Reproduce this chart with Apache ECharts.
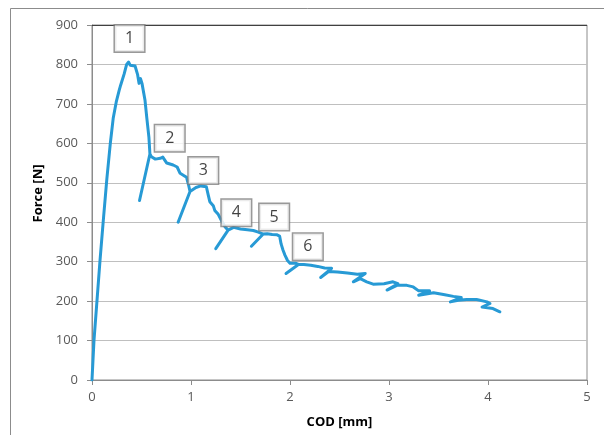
<!DOCTYPE html>
<html>
<head>
<meta charset="utf-8">
<script src="https://cdn.jsdelivr.net/npm/echarts@6/dist/echarts.min.js"></script>
<style>
html,body{margin:0;padding:0;background:#fff;}
#chart{width:604px;height:435px;}
</style>
</head>
<body>
<div id="chart"></div>
<script>
// COD [mm] values of the force-COD curve (unload/reload branches included)
const codValues = [
  0, 0.01, 0.02, 0.05, 0.08, 0.114, 0.15, 0.185, 0.215, 0.245, 0.275, 0.29, 0.31, 0.325, 0.35, 0.37, 0.385, 0.40, 0.435, 0.46, 0.475, 0.49, 0.505, 0.535, 0.553, 0.575, 0.585,
  0.48, 0.585, 0.60, 0.64, 0.69, 0.715, 0.755, 0.82, 0.86, 0.89, 0.93, 0.955, 0.975, 0.99,
  0.87, 0.99, 1.05, 1.10, 1.155, 1.175, 1.19, 1.225, 1.24, 1.275, 1.31, 1.345, 1.375,
  1.25, 1.375, 1.43, 1.50, 1.57, 1.63, 1.68, 1.73,
  1.61, 1.73, 1.77, 1.82, 1.87, 1.895, 1.91, 1.93, 1.95, 1.975, 2.0, 2.06, 2.085,
  1.96, 2.085, 2.14, 2.21, 2.28, 2.35, 2.42,
  2.31, 2.39, 2.48, 2.58, 2.68, 2.76,
  2.64, 2.71, 2.775, 2.84, 2.95, 3.04, 3.09,
  2.98, 3.08, 3.18, 3.245, 3.30, 3.41,
  3.30, 3.45, 3.55, 3.65, 3.73,
  3.62, 3.70, 3.785, 3.885, 3.99, 4.02,
  3.94, 4.05, 4.12
];
// Force [N] values matching codValues
const forceValues = [
  0, 50, 100, 200, 300, 404, 510, 600, 665, 705, 735, 748, 752, 776, 800, 806, 798, 802, 796, 775, 752, 764, 752, 710, 666, 615, 573,
  455, 573, 566, 560, 562, 565, 550, 545, 540, 524, 518, 514, 495, 478,
  400, 478, 488, 492, 490, 468, 452, 442, 430, 420, 403, 388, 380,
  333, 380, 387, 383, 381, 379, 375, 370,
  339, 370, 371, 369, 368, 365, 345, 329, 316, 303, 296, 296, 293,
  270, 293, 293, 291, 288, 284, 283,
  260, 275, 274, 271, 268, 270,
  249, 257, 249, 243, 244, 249, 244,
  228, 240, 240, 236, 226, 226,
  215, 221, 217, 212, 209,
  198, 202, 204, 204, 198, 194,
  185, 181, 173
];
// Numbered stage annotations
const noteLabels = ['1', '2', '3', '4', '5', '6'];
const noteCod = [0.379, 0.785, 1.124, 1.458, 1.84, 2.18];
const noteForce = [866, 613, 531, 424, 413, 338];
// Axis ticks
const xTicks = [0, 1, 2, 3, 4, 5];
const yTicks = [0, 100, 200, 300, 400, 500, 600, 700, 800, 900];

const curve = codValues.map((x, i) => [x, forceValues[i]]);
const notes = noteLabels.map((t, i) => ({ value: [noteCod[i], noteForce[i]], name: t }));

const chart = echarts.init(document.getElementById('chart'), null, { renderer: 'canvas' });
const fontFam = '"Open Sans", "Liberation Sans", sans-serif';
chart.setOption({
  animation: false,
  backgroundColor: '#ffffff',
  graphic: [{
    type: 'rect',
    shape: { x: 10.5, y: 8.5, width: 620, height: 450 },
    style: { fill: 'none', stroke: '#8c8c8c', lineWidth: 1 },
    silent: true, z: -1
  }],
  grid: {
    left: 92, right: 17, top: 25, bottom: 55,
    show: true, borderColor: '#8c8c8c', borderWidth: 1, backgroundColor: 'transparent'
  },
  xAxis: {
    type: 'value',
    min: xTicks[0], max: xTicks[xTicks.length - 1], interval: 1,
    name: 'COD [mm]', nameLocation: 'middle', nameGap: 36,
    nameTextStyle: { fontFamily: fontFam, fontWeight: 'bold', fontSize: 13, color: '#000' },
    axisLine: { show: true, lineStyle: { color: '#8c8c8c', width: 1 } },
    axisTick: { show: true, length: 5, lineStyle: { color: '#8c8c8c' } },
    axisLabel: { margin: 11, fontFamily: fontFam, fontSize: 13, color: '#595959' },
    splitLine: { show: false }
  },
  yAxis: {
    type: 'value',
    min: yTicks[0], max: yTicks[yTicks.length - 1], interval: 100,
    name: 'Force [N]', nameLocation: 'middle', nameGap: 45,
    nameTextStyle: { fontFamily: fontFam, fontWeight: 'bold', fontSize: 13, color: '#000', padding: [0, 0, 0, 18] },
    axisLine: { show: true, lineStyle: { color: '#8c8c8c', width: 1 } },
    axisTick: { show: true, length: 5, lineStyle: { color: '#8c8c8c' } },
    axisLabel: { margin: 14, fontFamily: fontFam, fontSize: 13, color: '#595959' },
    splitLine: { show: true, lineStyle: { color: '#bfbfbf', width: 1 } }
  },
  series: [
    {
      type: 'line',
      data: curve,
      showSymbol: false,
      symbol: 'none',
      smooth: false,
      lineStyle: { color: '#279ad5', width: 3, join: 'round', cap: 'round' },
      markLine: {
        silent: true, symbol: 'none', label: { show: false },
        lineStyle: { color: '#404040', width: 1, type: 'solid' },
        data: [{ yAxis: yTicks[yTicks.length - 1] }]
      },
      z: 3
    },
    {
      type: 'scatter',
      data: notes,
      symbolSize: 1,
      itemStyle: { color: 'rgba(0,0,0,0)' },
      label: {
        show: true, position: 'inside',
        formatter: p => p.name,
        fontFamily: fontFam, fontSize: 16, lineHeight: 18, color: '#111',
        backgroundColor: '#ffffff', borderColor: '#7f7f7f', borderWidth: 1.5,
        padding: [4, 10, 4, 10]
      },
      labelLayout: { hideOverlap: false },
      z: 5
    }
  ]
});
</script>
</body>
</html>
